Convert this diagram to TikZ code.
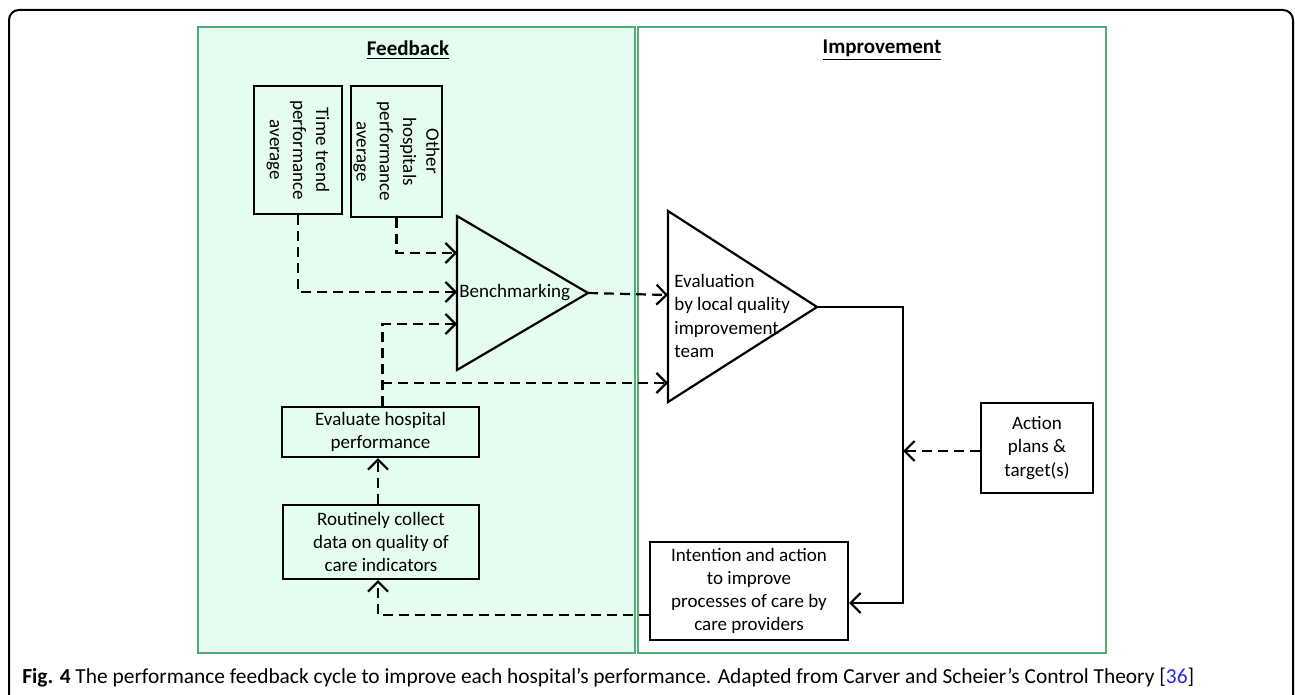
\documentclass[tikz,border=0pt]{standalone}
\usepackage{fontspec}
\setmainfont{Carlito}
\usetikzlibrary{arrows.meta, calc}

\definecolor{panelfill}{RGB}{228,253,240}
\definecolor{panelline}{RGB}{82,172,122}
\definecolor{citeblue}{RGB}{40,40,220}

\tikzset{
    panel/.style={draw=panelline, line width=1pt},
    box/.style={draw, line width=1.1pt, align=center, inner sep=0pt},
    tri/.style={draw, line width=1.1pt, line join=miter},
    flow/.style={line width=1.1pt, dash pattern=on 5pt off 3pt, -{Straight Barb[length=5pt, width=10pt]}},
    solidflow/.style={line width=1.1pt, -{Straight Barb[length=5pt, width=10pt]}},
    lbl/.style={font=\fontsize{9.5}{11.6}\selectfont}
}

\begin{document}
\begin{tikzpicture}[x=0.5pt, y=-0.5pt]

    \useasboundingbox (0,0) rectangle (1295,695);

    % Outer frame (open at the bottom)
    \draw[line width=1pt, rounded corners=5pt] (9,696) -- (9,10) -- (1293,10) -- (1293,696);

    % Panels
    \fill[panelfill] (198,27) rectangle (635,653);
    \draw[panel] (198,27) rectangle (635,653);
    \draw[panel] (638,27) rectangle (1106,653);
    \node[lbl, font=\fontsize{10.5}{12}\selectfont\bfseries] (fbtitle) at (408,50) {\underline{Feedback}};
    \node[lbl, font=\fontsize{10.5}{12}\selectfont\bfseries] (imtitle) at (882,50) {\underline{Improvement}};

    % Reference boxes
    \node[box, minimum width=44pt, minimum height=64pt] (trend) at (298,150) {};
    \node[lbl, rotate=-90, align=center] at (trend.center) {Time trend\\performance\\average};
    \node[box, minimum width=45.5pt, minimum height=65.5pt] (others) at (396.5,151.5) {};
    \node[lbl, rotate=-90, align=center] at (others.center) {Other\\hospitals\\performance\\average};

    % Comparators
    \coordinate (bmA) at (457,216);
    \coordinate (bmB) at (457,370);
    \coordinate (bmC) at (588,293);
    \draw[tri] (bmA) -- (bmC) -- (bmB) -- cycle;
    \node[lbl, anchor=west, inner sep=0pt] (bench) at (459,293) {Benchmarking};

    \coordinate (evA) at (668,211);
    \coordinate (evB) at (668,402);
    \coordinate (evC) at (817,307);
    \draw[tri] (evA) -- (evC) -- (evB) -- cycle;
    \node[lbl, anchor=west, align=left, inner sep=0pt] (evtext) at (674,316)
        {Evaluation\\by local quality\\improvement\\team};

    % Process boxes
    \node[box, lbl, minimum width=98.5pt, minimum height=25pt] (evalhosp) at (380.5,432)
        {Evaluate hospital\\performance};
    \node[box, lbl, minimum width=98pt, minimum height=37pt] (collect) at (381,542)
        {Routinely collect\\data on quality of\\care indicators};
    \node[box, lbl, minimum width=99pt, minimum height=49pt] (intent) at (749,591)
        {Intention and action\\to improve\\processes of care by\\care providers};
    \node[box, lbl, minimum width=56pt, minimum height=45pt] (plans) at (1037,448)
        {Action\\plans \&\\target(s)};

    % Junction points
    \coordinate (up) at (382,324);
    \coordinate (split) at (382,383);
    \coordinate (corner) at (903,307);
    \coordinate (joinpt) at (903,451);

    % Feedback arrows
    \draw[flow] (others.south) |- (457,253);
    \draw[flow] (trend.south) |- (457,292);
    \draw[flow] ([xshift=1]evalhosp.north) |- (457,324);
    \draw[flow] (split) -- (668,383);
    \draw[flow] (bmC) -- (668,295);
    \draw[flow] (collect.north -| 378,0) -- (evalhosp.south -| 378,0);
    \draw[flow] (intent.west |- 0,615) -| (collect.south -| 378,0);

    % Improvement loop
    \draw[solidflow] (evC) -| (903,603) -- (intent.east |- 0,603);
    \draw[flow] (plans.west |- joinpt) -- (joinpt);

    % Caption
    \node[anchor=base west, inner sep=0pt, font=\fontsize{10.7}{12}\selectfont] (caption) at (22,683)
        {\textbf{Fig. 4} The performance feedback cycle to improve each hospital’s performance. Adapted from Carver and Scheier’s Control Theory [\textcolor{citeblue}{36}]};

\end{tikzpicture}
\end{document}
